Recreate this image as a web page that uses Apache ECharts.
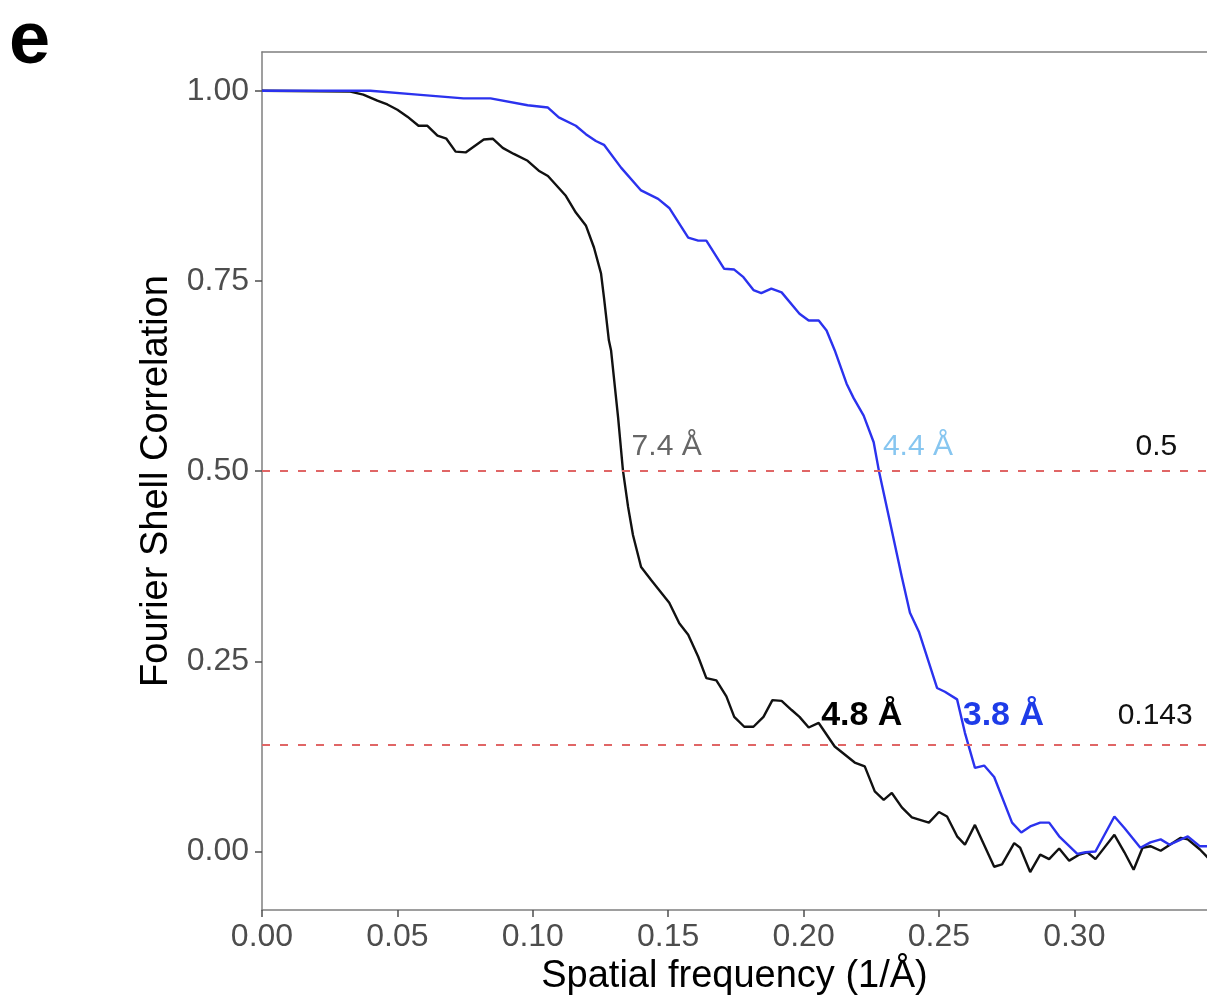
<!DOCTYPE html>
<html>
<head>
<meta charset="utf-8">
<script src="https://cdn.jsdelivr.net/npm/echarts@6/dist/echarts.min.js"></script>
<style>
  html, body { margin: 0; padding: 0; background: #fff; }
  #fsc { width: 1207px; height: 1001px; }
</style>
</head>
<body>
<div id="fsc"></div>
<script>
// FSC curves
const freqBlack = [0.000, 0.0326, 0.0374, 0.0426, 0.0463, 0.050, 0.0537, 0.0578, 0.0611, 0.0648, 0.0681, 0.0715, 0.0752,
  0.0819, 0.0852, 0.0889, 0.093, 0.0981, 0.1022, 0.1056, 0.1122, 0.1159, 0.1196, 0.1226, 0.1252, 0.1263, 0.1281,
  0.1289, 0.1315, 0.1333, 0.1352, 0.137, 0.140, 0.1437, 0.1504, 0.1541, 0.1574, 0.1611, 0.1641, 0.1678, 0.1715,
  0.1744, 0.1781, 0.1815, 0.1852, 0.1885, 0.1919, 0.1956, 0.1985, 0.2019, 0.2056, 0.2115, 0.2189, 0.2226, 0.2263,
  0.2296, 0.2326, 0.2363, 0.240, 0.2463, 0.250, 0.253, 0.2567, 0.2596, 0.2633, 0.2704, 0.2733, 0.2778, 0.280,
  0.2837, 0.2874, 0.2907, 0.2944, 0.2981, 0.3019, 0.3048, 0.3078, 0.3148, 0.3185, 0.3219, 0.3252, 0.3281, 0.3319,
  0.3393, 0.3419, 0.3463, 0.3493];
const fscBlack = [1.0, 0.999, 0.995, 0.987, 0.982, 0.975, 0.966, 0.954, 0.954, 0.941, 0.937, 0.92, 0.919,
  0.936, 0.937, 0.925, 0.917, 0.908, 0.895, 0.888, 0.862, 0.84, 0.823, 0.794, 0.76, 0.728, 0.672,
  0.659, 0.571, 0.501, 0.453, 0.416, 0.374, 0.357, 0.327, 0.30, 0.285, 0.256, 0.228, 0.225, 0.204,
  0.177, 0.164, 0.164, 0.177, 0.199, 0.198, 0.186, 0.177, 0.163, 0.169, 0.138, 0.117, 0.112, 0.079,
  0.068, 0.077, 0.058, 0.045, 0.038, 0.052, 0.046, 0.02, 0.009, 0.035, -0.02, -0.017, 0.011, 0.005,
  -0.027, -0.004, -0.01, 0.004, -0.012, -0.004, -0.001, -0.01, 0.022, -0.001, -0.024, 0.005, 0.007, 0.001,
  0.018, 0.016, 0.003, -0.008];

const freqBlue = [0.000, 0.040, 0.0574, 0.0744, 0.0844, 0.0981, 0.1056, 0.1096, 0.1159, 0.1196, 0.1233, 0.1263,
  0.1326, 0.140, 0.1463, 0.1504, 0.1574, 0.1611, 0.1641, 0.1707, 0.1744, 0.1778, 0.1815, 0.1844, 0.1881, 0.1919,
  0.1985, 0.2019, 0.2056, 0.2085, 0.2115, 0.2159, 0.2185, 0.2222, 0.2259, 0.2278, 0.2315, 0.2363, 0.2393, 0.2426,
  0.2493, 0.2522, 0.2567, 0.2596, 0.2633, 0.2667, 0.2704, 0.277, 0.2804, 0.2837, 0.2874, 0.2907, 0.2944, 0.3011,
  0.3041, 0.3078, 0.3148, 0.3185, 0.3244, 0.3281, 0.3319, 0.3352, 0.3419, 0.3463, 0.3493];
const fscBlue = [1.0, 1.0, 0.995, 0.99, 0.99, 0.981, 0.978, 0.965, 0.954, 0.943, 0.934, 0.929,
  0.899, 0.869, 0.858, 0.846, 0.807, 0.803, 0.803, 0.766, 0.765, 0.755, 0.738, 0.734, 0.74, 0.735,
  0.707, 0.698, 0.698, 0.685, 0.659, 0.615, 0.596, 0.573, 0.538, 0.501, 0.44, 0.361, 0.314, 0.289,
  0.215, 0.21, 0.2, 0.156, 0.11, 0.113, 0.098, 0.038, 0.025, 0.033, 0.038, 0.038, 0.02, -0.003,
  -0.001, 0.0, 0.046, 0.031, 0.005, 0.012, 0.016, 0.009, 0.02, 0.007, 0.007];

const thresholds = [0.5, 0.143];
const xTicks = [0, 0.05, 0.10, 0.15, 0.20, 0.25, 0.30];
const yTicks = [0, 0.25, 0.5, 0.75, 1.0];

const font = 'Liberation Sans, Arial, Helvetica, sans-serif';
const chart = echarts.init(document.getElementById('fsc'));

function pairs(xs, ys) {
  return xs.map((x, i) => [x, ys[i]]);
}

// small text annotations placed in data coordinates
function note(text, x, y, color, bold, size) {
  return {
    value: [x, y],
    label: {
      show: true, formatter: text, position: [0, 0], align: 'left', verticalAlign: 'middle',
      color: color, fontSize: size, fontWeight: bold ? 'bold' : 'normal', fontFamily: font
    }
  };
}

const frame = { color: '#7f7f7f', width: 1.5 };

chart.setOption({
  animation: false,
  backgroundColor: '#fff',
  grid: { left: 262, top: 52, right: 0, bottom: 88 },
  graphic: [{
    type: 'text', left: 9, top: 6,
    style: { text: 'e', fontSize: 74, fontWeight: 'bold', fontFamily: font, fill: '#000' }
  }],
  xAxis: [{
    type: 'value', min: 0, max: 0.349,
    name: 'Spatial frequency (1/Å)', nameLocation: 'middle', nameGap: 47,
    nameTextStyle: { fontSize: 38, color: '#000', fontFamily: font },
    axisLine: { show: true, onZero: false, lineStyle: frame },
    axisTick: { show: true, length: 7, customValues: xTicks, lineStyle: { color: '#4d4d4d', width: 1.5 } },
    axisLabel: { customValues: xTicks, margin: 11, fontSize: 32, color: '#4d4d4d', fontFamily: font,
      formatter: v => v.toFixed(2) },
    splitLine: { show: false }
  }, {
    // top edge of the panel frame
    type: 'value', position: 'top', min: 0, max: 0.349,
    axisLine: { show: true, onZero: false, lineStyle: frame },
    axisTick: { show: false }, axisLabel: { show: false }, splitLine: { show: false }
  }],
  yAxis: {
    type: 'value', min: -0.077, max: 1.051,
    name: 'Fourier Shell Correlation', nameLocation: 'middle', nameGap: 84,
    nameTextStyle: { fontSize: 38, color: '#000', fontFamily: font },
    axisLine: { show: true, onZero: false, lineStyle: frame },
    axisTick: { show: true, length: 7, customValues: yTicks, lineStyle: { color: '#4d4d4d', width: 1.5 } },
    axisLabel: { customValues: yTicks, margin: 13, fontSize: 32, color: '#4d4d4d', fontFamily: font,
      formatter: v => v.toFixed(2) },
    splitLine: { show: false }
  },
  series: [
    {
      type: 'line', data: pairs(freqBlack, fscBlack), showSymbol: false,
      lineStyle: { color: '#111', width: 2.4 }, z: 3,
      markLine: {
        silent: true, symbol: 'none', label: { show: false },
        lineStyle: { color: '#e06666', type: [8, 10], width: 2 },
        data: thresholds.map(t => ({ yAxis: t }))
      }
    },
    {
      type: 'line', data: pairs(freqBlue, fscBlue), showSymbol: false,
      lineStyle: { color: '#2b32ee', width: 2.4 }, z: 3
    },
    {
      type: 'scatter', symbolSize: 0, silent: true, z: 5,
      itemStyle: { opacity: 1 },
      data: [
        note('7.4 Å', 0.1365, 0.532, '#666666', false, 30),
        note('4.4 Å', 0.2293, 0.532, '#87c6f0', false, 30),
        note('0.5', 0.3226, 0.532, '#111', false, 30),
        note('4.8 Å', 0.2065, 0.178, '#000', true, 34),
        note('3.8 Å', 0.2588, 0.178, '#1e3ce8', true, 34),
        note('0.143', 0.316, 0.178, '#111', false, 30)
      ]
    }
  ]
});
</script>
</body>
</html>
